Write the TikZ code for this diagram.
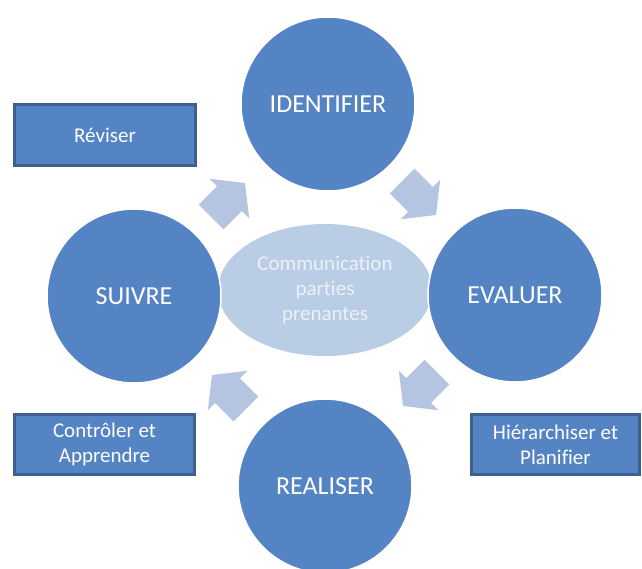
\documentclass[tikz,border=0pt]{standalone}
\usepackage{fontspec}
\setmainfont[Ligatures={NoCommon}]{Carlito}
\usepackage{tikz}
\usetikzlibrary{positioning,shapes.geometric}

\definecolor{stepblue}{RGB}{84,132,196}
\definecolor{boxline}{RGB}{62,96,145}
\definecolor{hubblue}{RGB}{185,205,229}
\definecolor{arrowblue}{RGB}{180,196,225}
\definecolor{hubtext}{RGB}{236,241,249}

\tikzset{
  stepcircle/.style={circle,fill=stepblue,draw=white,line width=1.5pt,minimum size=174pt,inner sep=0pt,text=white,font=\fontsize{26}{30}\selectfont},
  taskbox/.style={rectangle,fill=stepblue,draw=boxline,line width=3pt,inner sep=0pt,text=white,align=center,font=\fontsize{21}{25}\selectfont},
  hub/.style={ellipse,fill=hubblue,minimum width=214pt,minimum height=132pt,inner sep=0pt,text=hubtext,align=center,font=\fontsize{21}{25}\selectfont},
  blockarrow/.pic={\fill[arrowblue] (-24,-17.5) -- (2,-17.5) -- (2,-28) -- (24,0) -- (2,28) -- (2,17.5) -- (-24,17.5) -- cycle;}
}

\begin{document}
\begin{tikzpicture}[x=1pt,y=-1pt]
\useasboundingbox (0,0) rectangle (642,568);
% centre
\node[hub] (comm) at (325,290) {Communication\\parties\\prenantes};
% les quatre etapes
\node[stepcircle] (identifier) at (328,104) {IDENTIFIER};
\node[stepcircle] (evaluer) at (515,295) {EVALUER};
\node[stepcircle] (realiser) at (325,486) {REALISER};
\node[stepcircle] (suivre) at (134,296) {SUIVRE};
% fleches du cycle
\pic[rotate=45] at (228,200) {blockarrow};
\pic[rotate=-45] at (419,198) {blockarrow};
\pic[rotate=-135] at (420,389) {blockarrow};
\pic[rotate=135] at (229,392) {blockarrow};
% actions
\node[taskbox,minimum width=181pt,minimum height=61pt] (reviser) at (105,135) {Réviser};
\node[taskbox,minimum width=180pt,minimum height=60pt] (controler) at (104.5,444.5) {Contrôler et\\Apprendre};
\node[taskbox,minimum width=168pt,minimum height=60pt] (planifier) at (555.5,444.5) {Hiérarchiser et\\Planifier};
\end{tikzpicture}
\end{document}
